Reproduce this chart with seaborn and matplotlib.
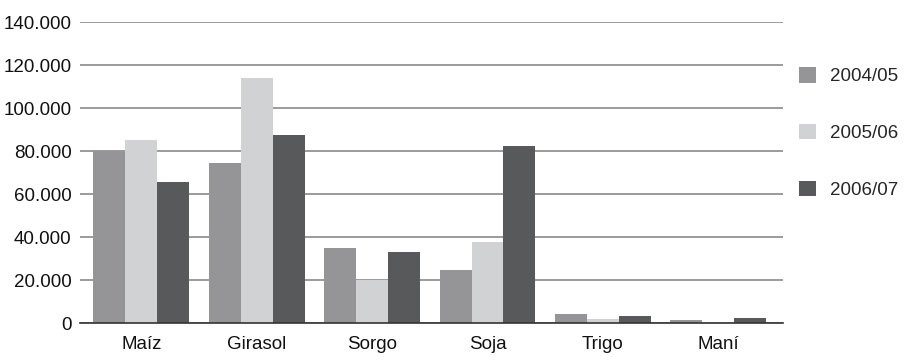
import matplotlib
matplotlib.use("Agg")
import matplotlib.pyplot as plt
import seaborn as sns
import pandas as pd
from matplotlib.ticker import FuncFormatter

categories = ["Maíz", "Girasol", "Sorgo", "Soja", "Trigo", "Maní"]
seasons = ["2004/05", "2005/06", "2006/07"]
v_2004_05 = [80000, 74600, 35100, 24900, 4400, 1600]
v_2005_06 = [85300, 114200, 20100, 37900, 2200, 500]
v_2006_07 = [65800, 87700, 33300, 82600, 3500, 2600]
colors = ["#959598", "#d1d2d4", "#58595b"]

rows = []
for s, vals in zip(seasons, [v_2004_05, v_2005_06, v_2006_07]):
    for c, v in zip(categories, vals):
        rows.append({"cat": c, "season": s, "value": v})
df = pd.DataFrame(rows)

sns.set_style("white")
plt.rcParams["font.family"] = ["Liberation Sans", "DejaVu Sans"]

fig = plt.figure(figsize=(9.07, 3.61), dpi=100)
ax = fig.add_axes([0.088, 0.104, 0.775, 0.835])
sns.barplot(data=df, x="cat", y="value", hue="season", order=categories,
            hue_order=seasons, palette=colors, width=0.83, saturation=1,
            errorbar=None, ax=ax, linewidth=0, legend=True)

ax.set_ylim(0, 140000)
ax.set_xlim(-0.533, 5.559)
ax.set_yticks(range(0, 140001, 20000))
ax.yaxis.set_major_formatter(FuncFormatter(lambda v, p: f"{int(v):,}".replace(",", ".")))
ax.grid(axis="y", color="#808080", linewidth=1.1)
ax.set_axisbelow(True)
for sp in ["top", "right", "left"]:
    ax.spines[sp].set_visible(False)
ax.spines["bottom"].set_color("#333333")
ax.spines["bottom"].set_linewidth(1.2)
ax.set_xlabel("")
ax.set_ylabel("")
ax.tick_params(axis="both", length=0, labelsize=13.5, colors="#111111")
ax.tick_params(axis="y", pad=6)
ax.tick_params(axis="x", pad=9)

handles, labels = ax.get_legend_handles_labels()
ax.legend(handles, labels, loc="upper left", bbox_to_anchor=(1.012, 0.875),
          frameon=False, fontsize=13.5, handlelength=0.9, handleheight=0.9,
          labelspacing=2.05, handletextpad=0.75, borderaxespad=0)

fig.savefig("out.png", dpi=100)
